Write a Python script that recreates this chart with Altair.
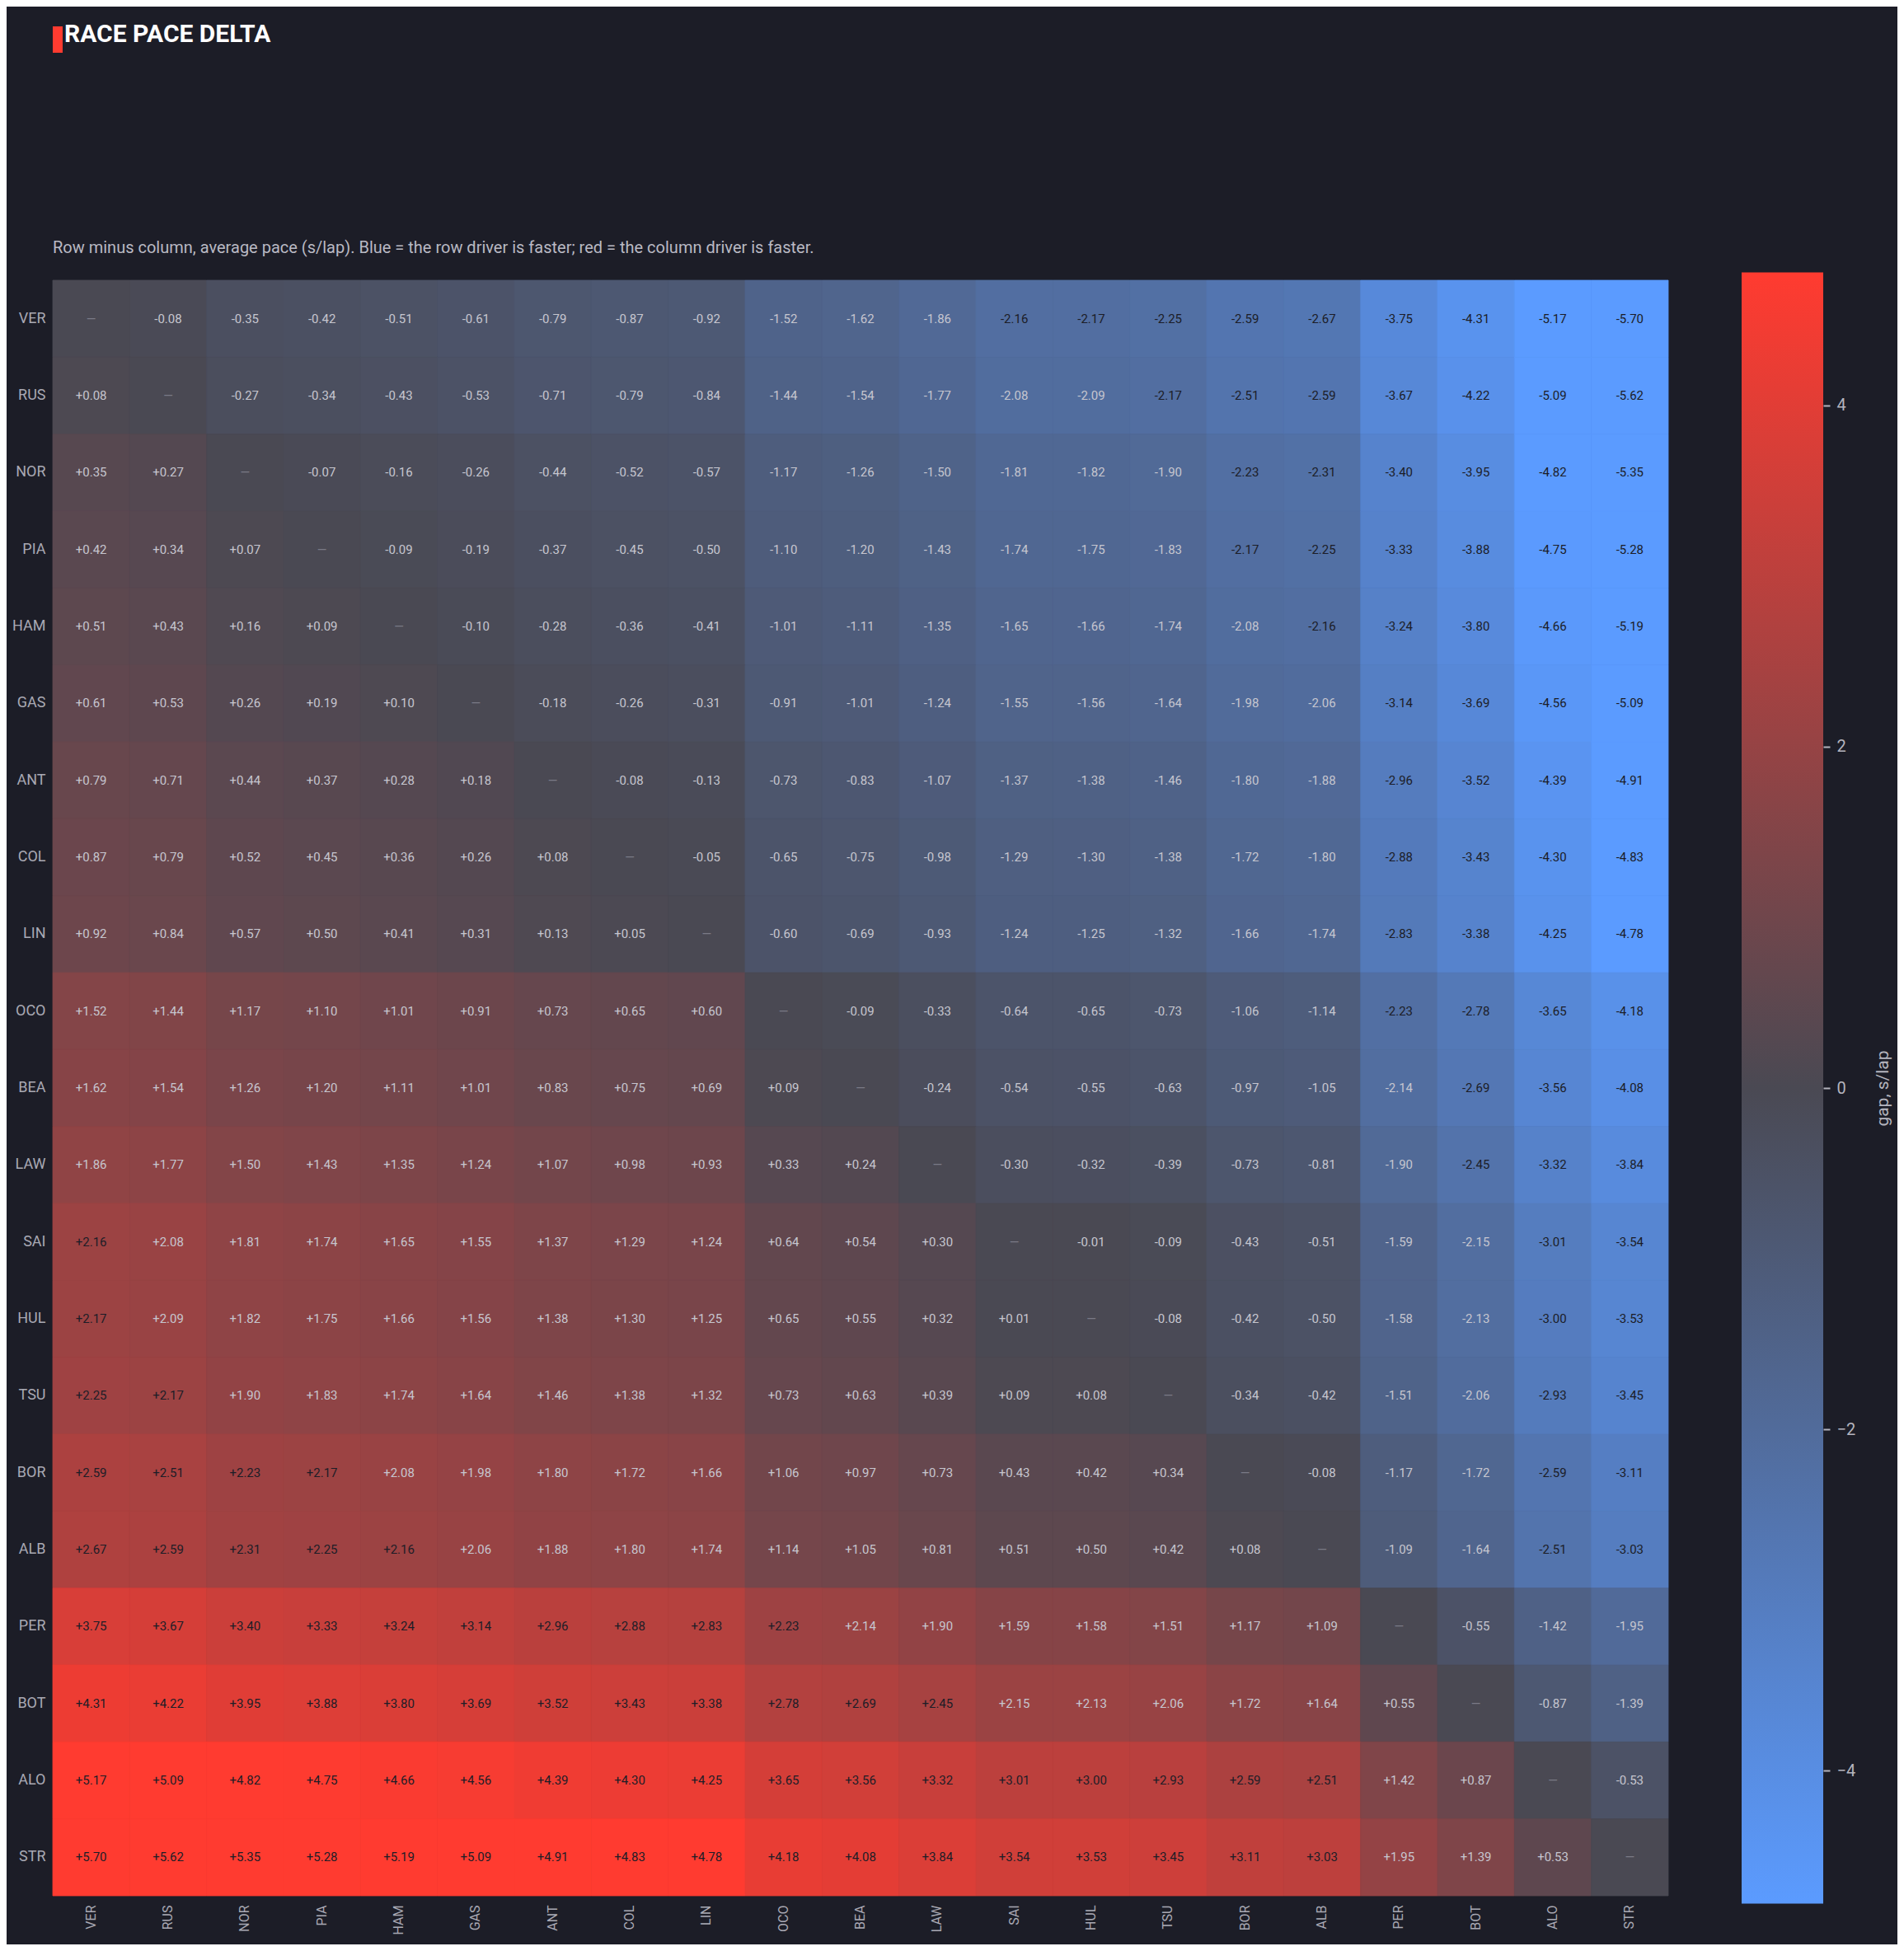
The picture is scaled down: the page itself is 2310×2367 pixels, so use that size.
import altair as alt
import pandas as pd

# Drivers in matrix order (rows and columns)
DRIVERS = ["VER", "RUS", "NOR", "PIA", "HAM", "GAS", "ANT", "COL", "LIN", "OCO", "BEA",
           "LAW", "SAI", "HUL", "TSU", "BOR", "ALB", "PER", "BOT", "ALO", "STR"]

# Upper triangle of the delta matrix (row minus column, s/lap), read row by row.
# The lower triangle is the same numbers with the sign flipped.
UPPER = [
    [-0.08, -0.35, -0.42, -0.51, -0.61, -0.79, -0.87, -0.92, -1.52, -1.62, -1.86, -2.16, -2.17, -2.25, -2.59, -2.67, -3.75, -4.31, -5.17, -5.70],
    [-0.27, -0.34, -0.43, -0.53, -0.71, -0.79, -0.84, -1.44, -1.54, -1.77, -2.08, -2.09, -2.17, -2.51, -2.59, -3.67, -4.22, -5.09, -5.62],
    [-0.07, -0.16, -0.26, -0.44, -0.52, -0.57, -1.17, -1.26, -1.50, -1.81, -1.82, -1.90, -2.23, -2.31, -3.40, -3.95, -4.82, -5.35],
    [-0.09, -0.19, -0.37, -0.45, -0.50, -1.10, -1.20, -1.43, -1.74, -1.75, -1.83, -2.17, -2.25, -3.33, -3.88, -4.75, -5.28],
    [-0.10, -0.28, -0.36, -0.41, -1.01, -1.11, -1.35, -1.65, -1.66, -1.74, -2.08, -2.16, -3.24, -3.80, -4.66, -5.19],
    [-0.18, -0.26, -0.31, -0.91, -1.01, -1.24, -1.55, -1.56, -1.64, -1.98, -2.06, -3.14, -3.69, -4.56, -5.09],
    [-0.08, -0.13, -0.73, -0.83, -1.07, -1.37, -1.38, -1.46, -1.80, -1.88, -2.96, -3.52, -4.39, -4.91],
    [-0.05, -0.65, -0.75, -0.98, -1.29, -1.30, -1.38, -1.72, -1.80, -2.88, -3.43, -4.30, -4.83],
    [-0.60, -0.69, -0.93, -1.24, -1.25, -1.32, -1.66, -1.74, -2.83, -3.38, -4.25, -4.78],
    [-0.09, -0.33, -0.64, -0.65, -0.73, -1.06, -1.14, -2.23, -2.78, -3.65, -4.18],
    [-0.24, -0.54, -0.55, -0.63, -0.97, -1.05, -2.14, -2.69, -3.56, -4.08],
    [-0.30, -0.32, -0.39, -0.73, -0.81, -1.90, -2.45, -3.32, -3.84],
    [-0.01, -0.09, -0.43, -0.51, -1.59, -2.15, -3.01, -3.54],
    [-0.08, -0.42, -0.50, -1.58, -2.13, -3.00, -3.53],
    [-0.34, -0.42, -1.51, -2.06, -2.93, -3.45],
    [-0.08, -1.17, -1.72, -2.59, -3.11],
    [-1.09, -1.64, -2.51, -3.03],
    [-0.55, -1.42, -1.95],
    [-0.87, -1.39],
    [-0.53],
    [],
]

COLOR_LIMIT = 4.78          # colour scale saturates here
DARK_TEXT_ABOVE = 2.155     # cells brighter than this get dark text
LEGEND_TICKS = [-4, -2, 0, 2, 4]

TITLE = "RACE PACE DELTA"
SUBTITLE = ("Row minus column, average pace (s/lap). Blue = the row driver is faster; "
            "red = the column driver is faster.")

BG = "#1c1d27"
BLUE, MID, RED = "#5b9bff", "#4a4953", "#ff3b30"
FONT = "Roboto"
CELL = 1960


def build_table() -> pd.DataFrame:
    n = len(DRIVERS)
    rows = []
    for i in range(n):
        for j in range(n):
            if i == j:
                v = 0.0
            elif j > i:
                v = UPPER[i][j - i - 1]
            else:
                v = -UPPER[j][i - j - 1]
            if i == j:
                label, tc = "\u2014", "#7a7a86"
            else:
                label = f"{v:+.2f}"
                tc = "#1c1d27" if abs(v) > DARK_TEXT_ABOVE else "#c6c6cf"
            rows.append({"row": DRIVERS[i], "col": DRIVERS[j], "v": v,
                         "label": label, "tc": tc})
    return pd.DataFrame(rows)


df = build_table()

x_enc = alt.X("col:N", sort=DRIVERS, title=None,
              scale=alt.Scale(paddingInner=0, paddingOuter=0),
              axis=alt.Axis(orient="bottom", labelAngle=270, labelFontSize=16,
                            labelColor="#a9a9b4", labelPadding=11, ticks=False,
                            domain=False, grid=False))
y_enc = alt.Y("row:N", sort=DRIVERS, title=None,
              scale=alt.Scale(paddingInner=0, paddingOuter=0),
              axis=alt.Axis(labelFontSize=18, labelColor="#a9a9b4", labelPadding=9,
                            ticks=False, domain=False, grid=False))

heat_scale = alt.Scale(domain=[-COLOR_LIMIT, 0, COLOR_LIMIT],
                       range=[BLUE, MID, RED], clamp=True, interpolate="rgb")

# a hairline stroke in the cell's own colour hides the sub-pixel seams
cells = alt.Chart(df).mark_rect(strokeWidth=0.8).encode(
    x=x_enc,
    y=y_enc,
    color=alt.Color("v:Q", legend=None, scale=heat_scale),
    stroke=alt.Stroke("v:Q", legend=None, scale=heat_scale),
)

labels = alt.Chart(df).mark_text(fontSize=15, font=FONT).encode(
    x=alt.X("col:N", sort=DRIVERS),
    y=alt.Y("row:N", sort=DRIVERS),
    text="label:N",
    fill=alt.Fill("tc:N", scale=None),
)

one = pd.DataFrame({"k": [0]})

accent = alt.Chart(one).mark_rect(color=RED).encode(
    x=alt.value(0), x2=alt.value(12), y=alt.value(-308), y2=alt.value(-276)
)
title = alt.Chart(one).mark_text(
    text=TITLE, font=FONT, fontSize=30, fontWeight="bold", color="#ffffff",
    align="left", baseline="alphabetic"
).encode(x=alt.value(14), y=alt.value(-289))
subtitle = alt.Chart(one).mark_text(
    text=SUBTITLE, font=FONT, fontSize=20, color="#b9b9c3",
    align="left", baseline="middle"
).encode(x=alt.value(0), y=alt.value(-39))

heat = alt.layer(cells, labels, accent, title, subtitle)

bar_df = pd.DataFrame({"lo": [-COLOR_LIMIT], "hi": [COLOR_LIMIT]})
gradient = alt.LinearGradient(
    gradient="linear",
    stops=[alt.GradientStop(color=BLUE, offset=0),
           alt.GradientStop(color=MID, offset=0.5),
           alt.GradientStop(color=RED, offset=1)],
    x1=0, x2=0, y1=1, y2=0,
)
colorbar = alt.Chart(bar_df).mark_rect(color=gradient).encode(
    x=alt.value(2049), x2=alt.value(2148),
    y=alt.Y("lo:Q",
            scale=alt.Scale(domain=[-4.734, 4.734], nice=False, zero=False),
            axis=alt.Axis(orient="right", offset=188, values=LEGEND_TICKS,
                          tickSize=8, tickWidth=2, tickColor="#b4b4be",
                          labelFontSize=20, labelColor="#b4b4be", labelPadding=8,
                          domain=False, grid=False, title="gap, s/lap",
                          titleAngle=270, titleFontSize=21, titleFontWeight="normal",
                          titleColor="#b4b4be", titlePadding=44)),
    y2="hi:Q",
)

chart = (
    alt.layer(heat, colorbar)
    .resolve_scale(y="independent")
    .properties(width=CELL, height=CELL,
                autosize=alt.AutoSizeParams(type="none"),
                padding={"left": 56, "top": 332, "right": 278, "bottom": 59})
    .configure(background=BG, font=FONT)
    .configure_view(stroke=None)
)

chart.save("out.html", embed_options={"renderer": "svg", "actions": False})
